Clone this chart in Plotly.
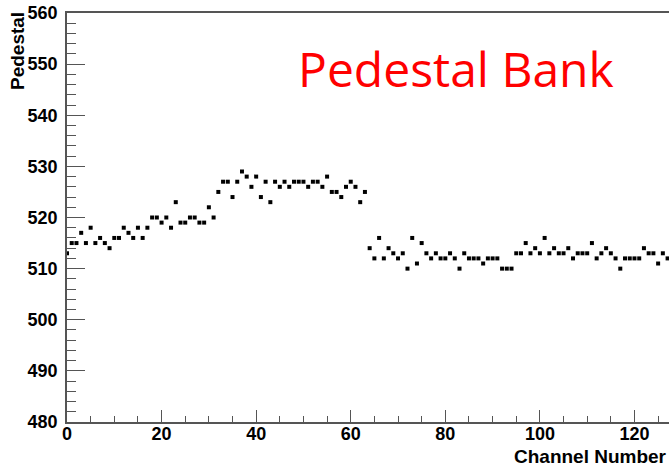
import plotly.graph_objects as go

channels = list(range(128))
pedestal = [
    513, 515, 515, 517, 515, 518, 515, 516, 515, 514,
    516, 516, 518, 517, 516, 518, 516, 518, 520, 520,
    519, 520, 518, 523, 519, 519, 520, 520, 519, 519,
    522, 520, 525, 527, 527, 524, 527, 529, 528, 526,
    528, 524, 527, 523, 527, 526, 527, 526, 527, 527,
    527, 526, 527, 527, 526, 528, 525, 525, 524, 526,
    527, 526, 523, 525, 514, 512, 516, 512, 514, 513,
    512, 513, 510, 516, 511, 515, 513, 512, 513, 512,
    512, 513, 512, 510, 513, 512, 512, 512, 511, 512,
    512, 512, 510, 510, 510, 513, 513, 515, 513, 514,
    513, 516, 513, 514, 513, 513, 514, 512, 513, 513,
    513, 515, 512, 513, 514, 513, 512, 510, 512, 512,
    512, 512, 514, 513, 513, 511, 513, 512,
]

x_ticks = [0, 20, 40, 60, 80, 100, 120]
y_ticks = [480, 490, 500, 510, 520, 530, 540, 550, 560]

W, H = 669, 466
ML, MR, MT, MB = 67, 0, 13, 44
PW, PH = W - ML - MR, H - MT - MB

def px(xp):
    return (xp - ML) / PW

def py(yp):
    return (H - MB - yp) / PH

fig = go.Figure()
fig.add_trace(go.Scatter(
    x=channels, y=pedestal, mode="markers",
    marker=dict(symbol="square", size=4, color="black", line=dict(width=0)),
    cliponaxis=False, showlegend=False,
))

tickfont = dict(family="Liberation Sans, Arial, sans-serif", size=18, color="black", weight="bold")
axcol = "#555555"

fig.update_layout(
    width=W, height=H,
    margin=dict(l=ML, r=MR, t=MT, b=MB, pad=0),
    paper_bgcolor="white", plot_bgcolor="white",
    xaxis=dict(
        range=[0, 127.3], tickmode="array", tickvals=x_ticks,
        ticks="inside", ticklen=12, tickwidth=1, tickcolor=axcol,
        minor=dict(dtick=5, tick0=0, ticks="inside", ticklen=6, tickwidth=1, tickcolor=axcol, showgrid=False),
        showline=True, linecolor=axcol, linewidth=1.5, mirror=True,
        showgrid=False, zeroline=False, tickfont=tickfont, ticklabelstandoff=-5,
    ),
    yaxis=dict(
        range=[480, 560], tickmode="array", tickvals=y_ticks,
        ticks="inside", ticklen=18, tickwidth=1, tickcolor=axcol,
        minor=dict(dtick=2, tick0=480, ticks="inside", ticklen=9, tickwidth=1, tickcolor=axcol, showgrid=False),
        showline=True, linecolor=axcol, linewidth=1.5, mirror=False,
        showgrid=False, zeroline=False, tickfont=tickfont, ticklabelstandoff=4,
    ),
    annotations=[
        dict(text="Pedestal Bank", xref="paper", yref="paper",
             x=px(456), y=py(68), xanchor="center", yanchor="middle", showarrow=False,
             font=dict(family="Open Sans, sans-serif", size=48, color="#ff0000")),
        dict(text="Pedestal", xref="paper", yref="paper", textangle=-90,
             x=px(17), y=py(10), xanchor="center", yanchor="top", showarrow=False,
             font=dict(family="Liberation Sans, Arial, sans-serif", size=19, color="black", weight="bold")),
        dict(text="Channel Number", xref="paper", yref="paper",
             x=px(669), y=py(456), xanchor="right", yanchor="middle", showarrow=False,
             font=dict(family="Liberation Sans, Arial, sans-serif", size=19, color="black", weight="bold")),
    ],
)

fig.write_html("out.html")
